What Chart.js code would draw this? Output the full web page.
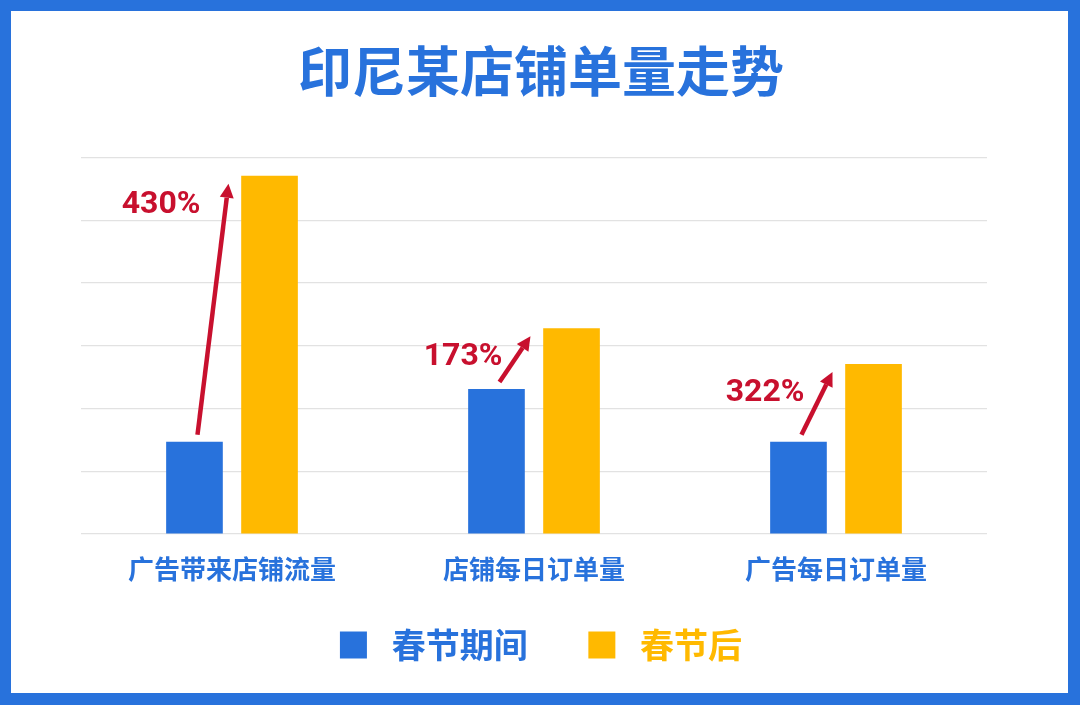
<!DOCTYPE html>
<html><head><meta charset="utf-8">
<script src="https://cdn.jsdelivr.net/npm/chart.js@4.4.1/dist/chart.umd.min.js"></script>
<style>
html,body{margin:0;padding:0;background:#fff;}
#frame{width:1080px;height:705px;box-sizing:border-box;border:11px solid #2872DC;border-right-width:12px;border-bottom-width:12px;background:#fff;}
#wrap{position:relative;width:1057px;height:682px;}
</style></head><body>
<div id="frame"><div id="wrap"><canvas id="c"></canvas></div></div>
<script>
const titleText = '印尼某店铺单量走势';
const categories = ['广告带来店铺流量', '店铺每日订单量', '广告每日订单量'];
const seriesNames = ['春节期间', '春节后'];
const duringValues = [1.47, 2.31, 1.47];
const afterValues = [5.71, 3.28, 2.71];
const growthLabels = ['430%', '173%', '322%'];
const yMin = 0, yMax = 6, yStep = 1;

const BLUE = '#2872DC', YELLOW = '#FFB900', RED = '#C8102E';
const CJK = '"Noto Sans CJK SC", "Noto Sans", sans-serif';

const arrowPlugin = {
  id: 'growthArrows',
  afterDatasetsDraw(chart) {
    const ctx = chart.ctx;
    const m0 = chart.getDatasetMeta(0).data;
    const m1 = chart.getDatasetMeta(1).data;
    ctx.save();
    growthLabels.forEach((txt, i) => {
      const b = m0[i], y = m1[i];
      const sx = b.x + 3, sy = b.y - 7;
      const tx = b.x + 0.6 * b.width, ty = y.y + 8;
      const ang = Math.atan2(ty - sy, tx - sx);
      const head = 14, hw = 7;
      const bx = tx - head * Math.cos(ang), by = ty - head * Math.sin(ang);
      ctx.strokeStyle = RED; ctx.fillStyle = RED;
      ctx.lineWidth = 4.5; ctx.lineCap = 'butt';
      ctx.beginPath(); ctx.moveTo(sx, sy); ctx.lineTo(bx, by); ctx.stroke();
      ctx.beginPath();
      ctx.moveTo(tx, ty);
      ctx.lineTo(bx + hw * Math.sin(ang), by - hw * Math.cos(ang));
      ctx.lineTo(bx - hw * Math.sin(ang), by + hw * Math.cos(ang));
      ctx.closePath(); ctx.fill();
      ctx.font = 'bold 32px Roboto, "Noto Sans", sans-serif';
      ctx.textAlign = 'right'; ctx.textBaseline = 'middle';
      ctx.fillText(txt, b.x + 6, y.y + 29);
    });
    ctx.restore();
  }
};

new Chart(document.getElementById('c'), {
  type: 'bar',
  data: {
    labels: categories,
    datasets: [
      { label: seriesNames[0], data: duringValues, backgroundColor: BLUE, categoryPercentage: 0.497, barPercentage: 0.755 },
      { label: seriesNames[1], data: afterValues, backgroundColor: YELLOW, categoryPercentage: 0.497, barPercentage: 0.755 }
    ]
  },
  options: {
    responsive: true,
    maintainAspectRatio: false,
    animation: false,
    layout: { padding: { left: 70, right: 67, top: 0, bottom: 21 } },
    plugins: {
      tooltip: { enabled: false },
      title: {
        display: true, text: titleText, color: BLUE,
        font: { family: CJK, size: 54, weight: 'bold', lineHeight: 1.2 },
        padding: { top: 28.5, bottom: 53.3 }
      },
      legend: {
        position: 'bottom',
        labels: {
          boxWidth: 27, boxHeight: 27, padding: 36,
          font: { family: CJK, size: 34, weight: 'bold' },
          generateLabels(chart) {
            const n = chart.data.datasets.length;
            return chart.data.datasets.map((ds, i) => ({
              text: ' ' + ds.label + (i < n - 1 ? '\u2002 ' : ''),
              fillStyle: ds.backgroundColor,
              strokeStyle: ds.backgroundColor,
              lineWidth: 0,
              fontColor: ds.backgroundColor,
              datasetIndex: i,
              hidden: false
            }));
          }
        }
      }
    },
    scales: {
      x: {
        grid: { display: false, drawTicks: false },
        border: { display: false },
        ticks: { color: BLUE, padding: 20, font: { family: CJK, size: 26, weight: 'bold' } },
        afterFit(s) { s.height = 58; }
      },
      y: {
        position: 'right',
        min: yMin, max: yMax,
        grid: { color: '#E2E2E2', lineWidth: 1.2, drawTicks: false },
        border: { display: false },
        ticks: { display: false, stepSize: yStep },
        afterFit(s) { s.width = 14; }
      }
    }
  },
  plugins: [arrowPlugin]
});
</script>
</body></html>
